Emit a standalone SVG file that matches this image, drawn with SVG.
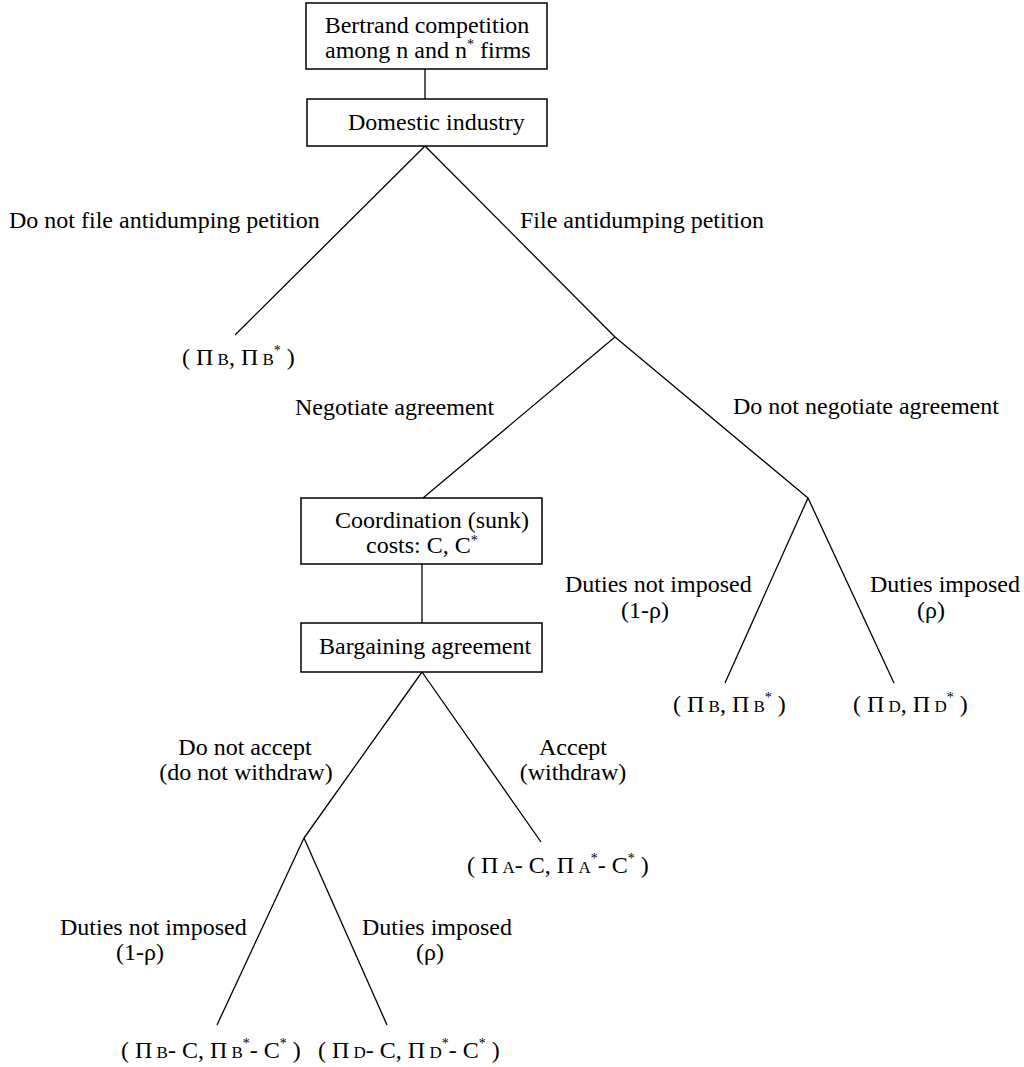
<svg xmlns="http://www.w3.org/2000/svg" width="1024" height="1067" viewBox="0 0 1024 1067">
<style>
.t{font-family:"Liberation Serif","Times New Roman",serif;font-size:24px;fill:#000}
.s{font-size:17px}
.u{font-size:14px}
.box{fill:#fff;stroke:#000;stroke-width:1.5}
.ln{stroke:#000;stroke-width:1.3;fill:none}
</style>
<rect width="1024" height="1067" fill="#fff"/>
<g id="connectors" class="ln">
<line x1="425" y1="69" x2="425" y2="99"/>
<line x1="425" y1="146" x2="235" y2="335"/>
<line x1="425" y1="146" x2="615" y2="337"/>
<line x1="615" y1="337" x2="808" y2="498"/>
<line x1="615" y1="337" x2="423" y2="498"/>
<line x1="422" y1="564" x2="422" y2="623"/>
<line x1="422" y1="672" x2="304" y2="838"/>
<line x1="422" y1="672" x2="541" y2="842"/>
<line x1="304" y1="838" x2="217" y2="1025"/>
<line x1="304" y1="838" x2="387" y2="1025"/>
<line x1="808" y1="498" x2="725" y2="683"/>
<line x1="808" y1="498" x2="894" y2="683"/>
</g>
<g id="n-bertrand">
<rect class="box" x="306" y="3" width="241" height="66"/>
<text class="t" x="427" y="33" text-anchor="middle">Bertrand competition</text>
<text class="t" x="325" y="58">among n and n<tspan class="u" dy="-9">*</tspan><tspan dy="9"> firms</tspan></text>
</g>
<g id="n-domestic">
<rect class="box" x="307" y="99" width="240" height="47"/>
<text class="t" x="348" y="130">Domestic industry</text>
</g>
<g id="n-coordination">
<rect class="box" x="301" y="498" width="241" height="66"/>
<text class="t" x="335" y="528">Coordination (sunk)</text>
<text class="t" x="366" y="553">costs: C, C<tspan class="u" dy="-8">*</tspan></text>
</g>
<g id="n-bargaining">
<rect class="box" x="301" y="623" width="241" height="49"/>
<text class="t" x="319" y="654">Bargaining agreement</text>
</g>
<g id="labels">
<text class="t" x="9" y="228">Do not file antidumping petition</text>
<text class="t" x="520" y="228">File antidumping petition</text>
<text class="t" x="295" y="415">Negotiate agreement</text>
<text class="t" x="733" y="414">Do not negotiate agreement</text>
<text class="t" x="565" y="592">Duties not imposed</text>
<text class="t" x="621" y="618">(1-ρ)</text>
<text class="t" x="870" y="592">Duties imposed</text>
<text class="t" x="917" y="618">(ρ)</text>
<text class="t" x="245" y="755" text-anchor="middle">Do not accept</text>
<text class="t" x="246" y="780" text-anchor="middle">(do not withdraw)</text>
<text class="t" x="573" y="755" text-anchor="middle">Accept</text>
<text class="t" x="573" y="780" text-anchor="middle">(withdraw)</text>
<text class="t" x="60" y="935">Duties not imposed</text>
<text class="t" x="116" y="960">(1-ρ)</text>
<text class="t" x="362" y="935">Duties imposed</text>
<text class="t" x="416" y="960">(ρ)</text>
</g>
<g id="leaf-no-file">
<text class="t" x="182" y="365">( Π<tspan class="s"> B</tspan>, Π<tspan class="s"> B</tspan><tspan class="u" dy="-10">*</tspan><tspan dy="10"> )</tspan></text>
</g>
<g id="leaf-dn-not-imposed">
<text class="t" x="673" y="712">( Π<tspan class="s"> B</tspan>, Π<tspan class="s"> B</tspan><tspan class="u" dy="-10">*</tspan><tspan dy="10"> )</tspan></text>
</g>
<g id="leaf-dn-imposed">
<text class="t" x="853" y="712">( Π<tspan class="s"> D</tspan>, Π<tspan class="s"> D</tspan><tspan class="u" dy="-10">*</tspan><tspan dy="10"> )</tspan></text>
</g>
<g id="leaf-accept">
<text class="t" x="467" y="873">( Π<tspan class="s"> A</tspan>- C, Π<tspan class="s"> A</tspan><tspan class="u" dy="-10">*</tspan><tspan dy="10">- C</tspan><tspan class="u" dy="-10">*</tspan><tspan dy="10"> )</tspan></text>
</g>
<g id="leaf-not-imposed">
<text class="t" x="121" y="1058">( Π<tspan class="s"> B</tspan>- C, Π<tspan class="s"> B</tspan><tspan class="u" dy="-10">*</tspan><tspan dy="10">- C</tspan><tspan class="u" dy="-10">*</tspan><tspan dy="10"> )</tspan></text>
</g>
<g id="leaf-imposed">
<text class="t" x="318" y="1058">( Π<tspan class="s"> D</tspan>- C, Π<tspan class="s"> D</tspan><tspan class="u" dy="-10">*</tspan><tspan dy="10">- C</tspan><tspan class="u" dy="-10">*</tspan><tspan dy="10"> )</tspan></text>
</g>
</svg>
